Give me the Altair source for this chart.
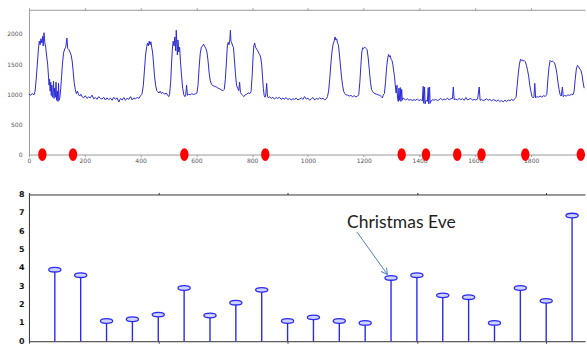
import altair as alt
import pandas as pd

# ---------------- data ----------------
load_trace = [
    (0, 1000), (6, 985), (12, 1010), (18, 990), (22, 1050),
    (26, 1250), (30, 1500), (34, 1750), (37, 1880), (40, 1820), (43, 1920), (46, 1850),
    (49, 1960), (51, 1800), (54, 2020), (57, 1850), (60, 1780), (63, 1650), (67, 1500),
    (70, 1300), (72, 1150), (74, 1250), (76, 1050), (78, 1200), (80, 980), (82, 1150),
    (84, 950), (86, 1000), (88, 1220), (90, 930), (92, 1100), (95, 950), (97, 1200),
    (99, 900), (102, 1050), (104, 880), (106, 1180), (108, 900), (111, 950), (114, 1100),
    (117, 1300), (120, 1500), (124, 1680), (128, 1750), (132, 1780), (136, 1930),
    (139, 1760), (143, 1740), (147, 1700), (151, 1650), (155, 1550), (158, 1400),
    (162, 1200), (166, 1080), (170, 1010), (174, 1050), (178, 990), (182, 970), (186, 1000),
    (190, 960), (196, 940), (202, 975), (208, 930), (214, 955), (220, 940), (226, 985),
    (232, 925), (238, 945), (244, 915), (250, 960), (256, 930), (262, 920), (268, 950),
    (274, 905), (280, 940), (286, 910), (292, 935), (298, 900), (304, 950), (310, 915),
    (316, 940), (322, 870), (328, 930), (334, 905), (340, 945), (346, 900), (352, 935),
    (358, 915), (364, 960), (370, 905), (376, 940), (382, 920), (388, 950), (394, 930),
    (400, 975), (405, 1000),
    (410, 1150), (414, 1400), (418, 1650), (422, 1790), (425, 1850), (428, 1800),
    (431, 1880), (434, 1820), (437, 1870), (440, 1780), (443, 1700), (446, 1550),
    (450, 1300), (454, 1150), (458, 1060), (462, 1040), (466, 1020), (470, 1050),
    (475, 1010), (480, 1030), (486, 1000), (492, 1020), (497, 985), (501, 960), (504, 1000),
    (508, 1200), (511, 1500), (514, 1750), (517, 1880), (520, 1800), (523, 1950),
    (526, 1720), (528, 2060), (530, 1850), (532, 1650), (534, 1900), (537, 1700),
    (540, 1780), (543, 1550), (547, 1300), (551, 1100), (555, 990), (559, 960),
    (562, 1000), (565, 1150), (568, 980), (572, 1000), (578, 990), (584, 1010),
    (590, 995), (596, 1005), (602, 1020),
    (606, 1150), (610, 1450), (614, 1680), (618, 1780), (622, 1800), (626, 1830),
    (630, 1790), (634, 1760), (638, 1700), (642, 1550), (646, 1350), (650, 1220),
    (655, 1160), (660, 1140), (666, 1130), (672, 1120), (678, 1100), (684, 1090),
    (690, 1070), (696, 1060), (700, 1080),
    (704, 1250), (708, 1550), (711, 1800), (714, 1860), (717, 1820), (720, 1900),
    (722, 2060), (724, 1880), (727, 1850), (730, 1800), (733, 1780), (736, 1600),
    (740, 1350), (744, 1150), (748, 1100), (752, 1060), (755, 1200), (758, 1030),
    (762, 1000), (766, 980), (770, 960), (775, 990), (780, 1000), (786, 1020),
    (792, 1010), (796, 1040),
    (800, 1300), (803, 1600), (806, 1800), (809, 1850), (812, 1780), (816, 1750),
    (820, 1720), (824, 1680), (828, 1650), (831, 1600), (834, 1500), (837, 1300),
    (840, 1100), (843, 980), (846, 950), (849, 1000), (852, 1180), (855, 960),
    (858, 940), (862, 960), (868, 930), (874, 950), (880, 920), (886, 945), (892, 930),
    (898, 950), (904, 915), (910, 935), (916, 920), (922, 945), (928, 910), (934, 930),
    (940, 905), (946, 925), (952, 915), (958, 935), (964, 905), (970, 920), (976, 940),
    (982, 915), (988, 960), (994, 920), (1000, 935), (1006, 900), (1012, 925),
    (1018, 945), (1024, 905), (1030, 930), (1036, 915), (1042, 940), (1048, 920),
    (1054, 935), (1060, 905), (1066, 925), (1070, 960),
    (1074, 1050), (1078, 1250), (1082, 1500), (1086, 1700), (1090, 1830), (1094, 1880),
    (1097, 1950), (1100, 1900), (1103, 1920), (1106, 1850), (1109, 1820), (1112, 1700),
    (1116, 1500), (1120, 1300), (1124, 1150), (1128, 1050), (1132, 1010), (1136, 990),
    (1142, 985), (1148, 970), (1154, 980), (1160, 960), (1166, 975), (1172, 955),
    (1178, 970), (1182, 990),
    (1186, 1200), (1190, 1500), (1193, 1700), (1196, 1770), (1200, 1760), (1204, 1780),
    (1208, 1760), (1212, 1740), (1216, 1600), (1220, 1400), (1224, 1200), (1228, 1080),
    (1232, 1040), (1236, 1020), (1240, 1010), (1246, 1000), (1252, 990), (1258, 980),
    (1263, 960), (1267, 940), (1270, 990), (1274, 1010),
    (1278, 1200), (1282, 1450), (1286, 1600), (1289, 1660), (1292, 1620), (1295, 1640),
    (1298, 1580), (1301, 1560), (1304, 1500), (1307, 1400), (1310, 1300), (1313, 1150),
    (1316, 1020), (1319, 1150), (1321, 930), (1324, 880), (1326, 1100), (1328, 900),
    (1331, 1110), (1333, 880), (1336, 1080), (1338, 900), (1341, 940), (1345, 920),
    (1350, 905), (1356, 925), (1362, 900), (1368, 915), (1374, 895), (1380, 910),
    (1386, 900), (1392, 920), (1398, 895), (1404, 910), (1410, 890),
    (1413, 1130), (1415, 850), (1418, 1120), (1420, 840), (1423, 900), (1428, 880),
    (1431, 1110), (1433, 840), (1436, 1120), (1438, 850), (1441, 880), (1446, 910),
    (1452, 900), (1458, 915), (1464, 895), (1470, 910), (1476, 930), (1482, 905),
    (1488, 920), (1494, 910), (1500, 935), (1506, 905), (1512, 925), (1518, 930),
    (1521, 1120), (1524, 910), (1530, 920), (1536, 905), (1542, 930), (1548, 910),
    (1554, 925), (1560, 900), (1566, 945), (1572, 905), (1578, 920), (1584, 930),
    (1590, 900), (1596, 915), (1602, 905), (1608, 920), (1614, 1120), (1617, 900),
    (1622, 915), (1628, 895), (1634, 905), (1640, 925), (1646, 900), (1652, 915),
    (1658, 890), (1664, 910), (1670, 900), (1676, 885), (1682, 905), (1688, 880),
    (1694, 895), (1700, 875), (1706, 900), (1712, 880), (1718, 905), (1724, 890),
    (1730, 915), (1736, 895), (1742, 930), (1746, 950),
    (1750, 1150), (1754, 1350), (1758, 1500), (1762, 1580), (1765, 1560), (1768, 1570),
    (1771, 1550), (1775, 1560), (1779, 1540), (1783, 1480), (1787, 1400), (1791, 1300),
    (1795, 1150), (1799, 1050), (1803, 960), (1807, 940), (1810, 950), (1813, 1180),
    (1816, 940), (1820, 960), (1826, 950), (1832, 970), (1838, 955), (1844, 975),
    (1850, 965), (1856, 990),
    (1860, 1250), (1864, 1450), (1868, 1560), (1872, 1540), (1876, 1550), (1880, 1530),
    (1884, 1520), (1888, 1450), (1892, 1350), (1896, 1200), (1900, 1080), (1904, 990),
    (1908, 970), (1912, 1120), (1915, 960), (1920, 980), (1926, 970), (1932, 990),
    (1938, 980), (1944, 1000), (1950, 990), (1954, 1050),
    (1958, 1250), (1962, 1420), (1966, 1480), (1970, 1460), (1974, 1420), (1978, 1400),
    (1982, 1330), (1986, 1200), (1990, 1100),
]
event_times = [48, 158, 557, 847, 1336, 1423, 1535, 1622, 1779, 1978]

stem_x = list(range(1, 22))
stem_y = [3.9, 3.6, 1.1, 1.2, 1.45, 2.9, 1.4, 2.1, 2.8, 1.1, 1.3,
          1.1, 1.0, 3.45, 3.6, 2.5, 2.4, 1.0, 2.9, 2.2, 6.85]

top_x_ticks = list(range(0, 1801, 200))
top_y_ticks = [0, 500, 1000, 1500, 2000]
bot_x_ticks = [0, 5, 10, 15, 20]
bot_y_ticks = [0, 1, 2, 3, 4, 5, 6, 7, 8]

annot_text = ["Christmas Eve"]
annot_text_pos = [(12.3, 6.47)]
annot_arrow = [(12.68, 5.96, 13.86, 3.64)]

# ---------------- frames ----------------
load_df = pd.DataFrame(load_trace, columns=["t", "v"])
ev_df = pd.DataFrame({"t": event_times, "v": [0] * len(event_times)})
stem_df = pd.DataFrame({"d": stem_x, "r": stem_y, "base": [0] * len(stem_x)})
txt_df = pd.DataFrame({"x": [p[0] for p in annot_text_pos],
                       "y": [p[1] for p in annot_text_pos], "label": annot_text})
arr_df = pd.DataFrame(annot_arrow, columns=["x", "y", "x2", "y2"])

ELLIPSE_TALL = "M-0.65,0A0.65,1 0 1,0 0.65,0A0.65,1 0 1,0 -0.65,0Z"
ELLIPSE_FLAT = "M-1,0A1,0.38 0 1,0 1,0A1,0.38 0 1,0 -1,0Z"
ARROW_V = "M-0.55,1L0,0L0.55,1"

PLOT_W = 557

# ---------------- top panel ----------------
xs_top = alt.Scale(domain=[0, 1993], nice=False, zero=False)
ys_top = alt.Scale(domain=[0, 2400], nice=False)
y_axis_top = alt.Axis(values=top_y_ticks, labelFontSize=6, tickSize=0,
                      labelPadding=7, labelColor="#555", domainColor="#999",
                      format="d", labelOverlap=False, title=None)

line = alt.Chart(load_df).mark_line(color="#2a2ad6", strokeWidth=1).encode(
    x=alt.X("t:Q", scale=xs_top, title=None,
            axis=alt.Axis(values=top_x_ticks, labelFontSize=6, tickSize=2,
                          labelPadding=1, labelColor="#555", domainColor="#999",
                          tickColor="#999", format="d", labelFlush=False,
                          labelOverlap=False)),
    y=alt.Y("v:Q", scale=ys_top, title=None, axis=y_axis_top),
)
top_frame = alt.Chart(load_df).mark_line(opacity=0).encode(
    x=alt.X("t:Q", scale=xs_top, title=None,
            axis=alt.Axis(orient="top", values=top_x_ticks, labels=False, tickSize=2,
                          domainColor="#999", tickColor="#999", title=None)),
    y=alt.Y("v:Q", scale=ys_top, title=None, axis=y_axis_top),
)
dots = alt.Chart(ev_df).mark_point(shape=ELLIPSE_TALL, size=165, filled=True,
                                   color="#ff0000", opacity=1).encode(
    x=alt.X("t:Q", axis=None),
    y=alt.Y("v:Q", scale=ys_top, title=None, axis=y_axis_top))
top = alt.layer(line, top_frame, dots).resolve_axis(x="independent").properties(
    width=PLOT_W, height=145,
    view=alt.ViewBackground(strokeWidth=0))

# ---------------- bottom panel ----------------
xs_b = alt.Scale(domain=[0, 21.5], nice=False, zero=False)
ys_b = alt.Scale(domain=[0, 8], nice=False)
y_axis_b = alt.Axis(values=bot_y_ticks, labelFontSize=8, labelFontWeight="bold",
                    tickSize=0, labelPadding=5, labelColor="#111",
                    domainColor="#333", labelOverlap=False, title=None)

stems = alt.Chart(stem_df).mark_rule(color="#2b2bf0", strokeWidth=1.4).encode(
    x=alt.X("d:Q", scale=xs_b, title=None,
            axis=alt.Axis(values=bot_x_ticks, labelFontSize=9, labelFontWeight="bold",
                          tickSize=2, labelPadding=1, labelColor="#333",
                          domainColor="#333", tickColor="#333", labelFlush=False,
                          labelOverlap=False)),
    y=alt.Y("r:Q", scale=ys_b, title=None, axis=y_axis_b),
    y2="base:Q",
)
bot_frame = alt.Chart(stem_df).mark_point(opacity=0).encode(
    x=alt.X("d:Q", scale=xs_b, title=None,
            axis=alt.Axis(orient="top", values=bot_x_ticks, labels=False, tickSize=2,
                          domainColor="#333", tickColor="#333", title=None)),
    y=alt.Y("r:Q", scale=ys_b, title=None, axis=y_axis_b),
)
heads = alt.Chart(stem_df).mark_point(shape=ELLIPSE_FLAT, size=150, filled=True,
                                      fill="#cfd3ff", stroke="#2b2bf0", strokeWidth=1.3,
                                      opacity=1, fillOpacity=1).encode(
    x=alt.X("d:Q", axis=None),
    y=alt.Y("r:Q", scale=ys_b, title=None, axis=y_axis_b))
label = alt.Chart(txt_df).mark_text(font="Lato", fontSize=17.5, color="#1e1e1e",
                                    align="left", baseline="middle").encode(
    x=alt.X("x:Q", axis=None),
    y=alt.Y("y:Q", scale=ys_b, title=None, axis=y_axis_b),
    text="label:N")
arrow = alt.Chart(arr_df).mark_rule(color="#4f81bd", strokeWidth=1).encode(
    x=alt.X("x:Q", axis=None),
    y=alt.Y("y:Q", scale=ys_b, title=None, axis=y_axis_b),
    x2="x2:Q", y2="y2:Q")
head = alt.Chart(arr_df).mark_point(shape=ARROW_V, size=150, filled=False,
                                    color="#4f81bd", strokeWidth=1, angle=144,
                                    opacity=1).encode(
    x=alt.X("x2:Q", axis=None),
    y=alt.Y("y2:Q", scale=ys_b, title=None, axis=y_axis_b))
bottom = alt.layer(stems, bot_frame, heads, arrow, head, label).resolve_axis(
    x="independent").properties(
    width=PLOT_W, height=147,
    view=alt.ViewBackground(strokeWidth=0))

chart = alt.vconcat(top, bottom, spacing=40, bounds="flush").properties(
    padding={"left": 6, "top": 6.5, "right": 0, "bottom": 0},
    background="white",
).configure_axis(grid=False, labelFont="DejaVu Sans", labelOverlap=False)

chart.save("out.html", embed_options={"renderer": "svg", "actions": False})
